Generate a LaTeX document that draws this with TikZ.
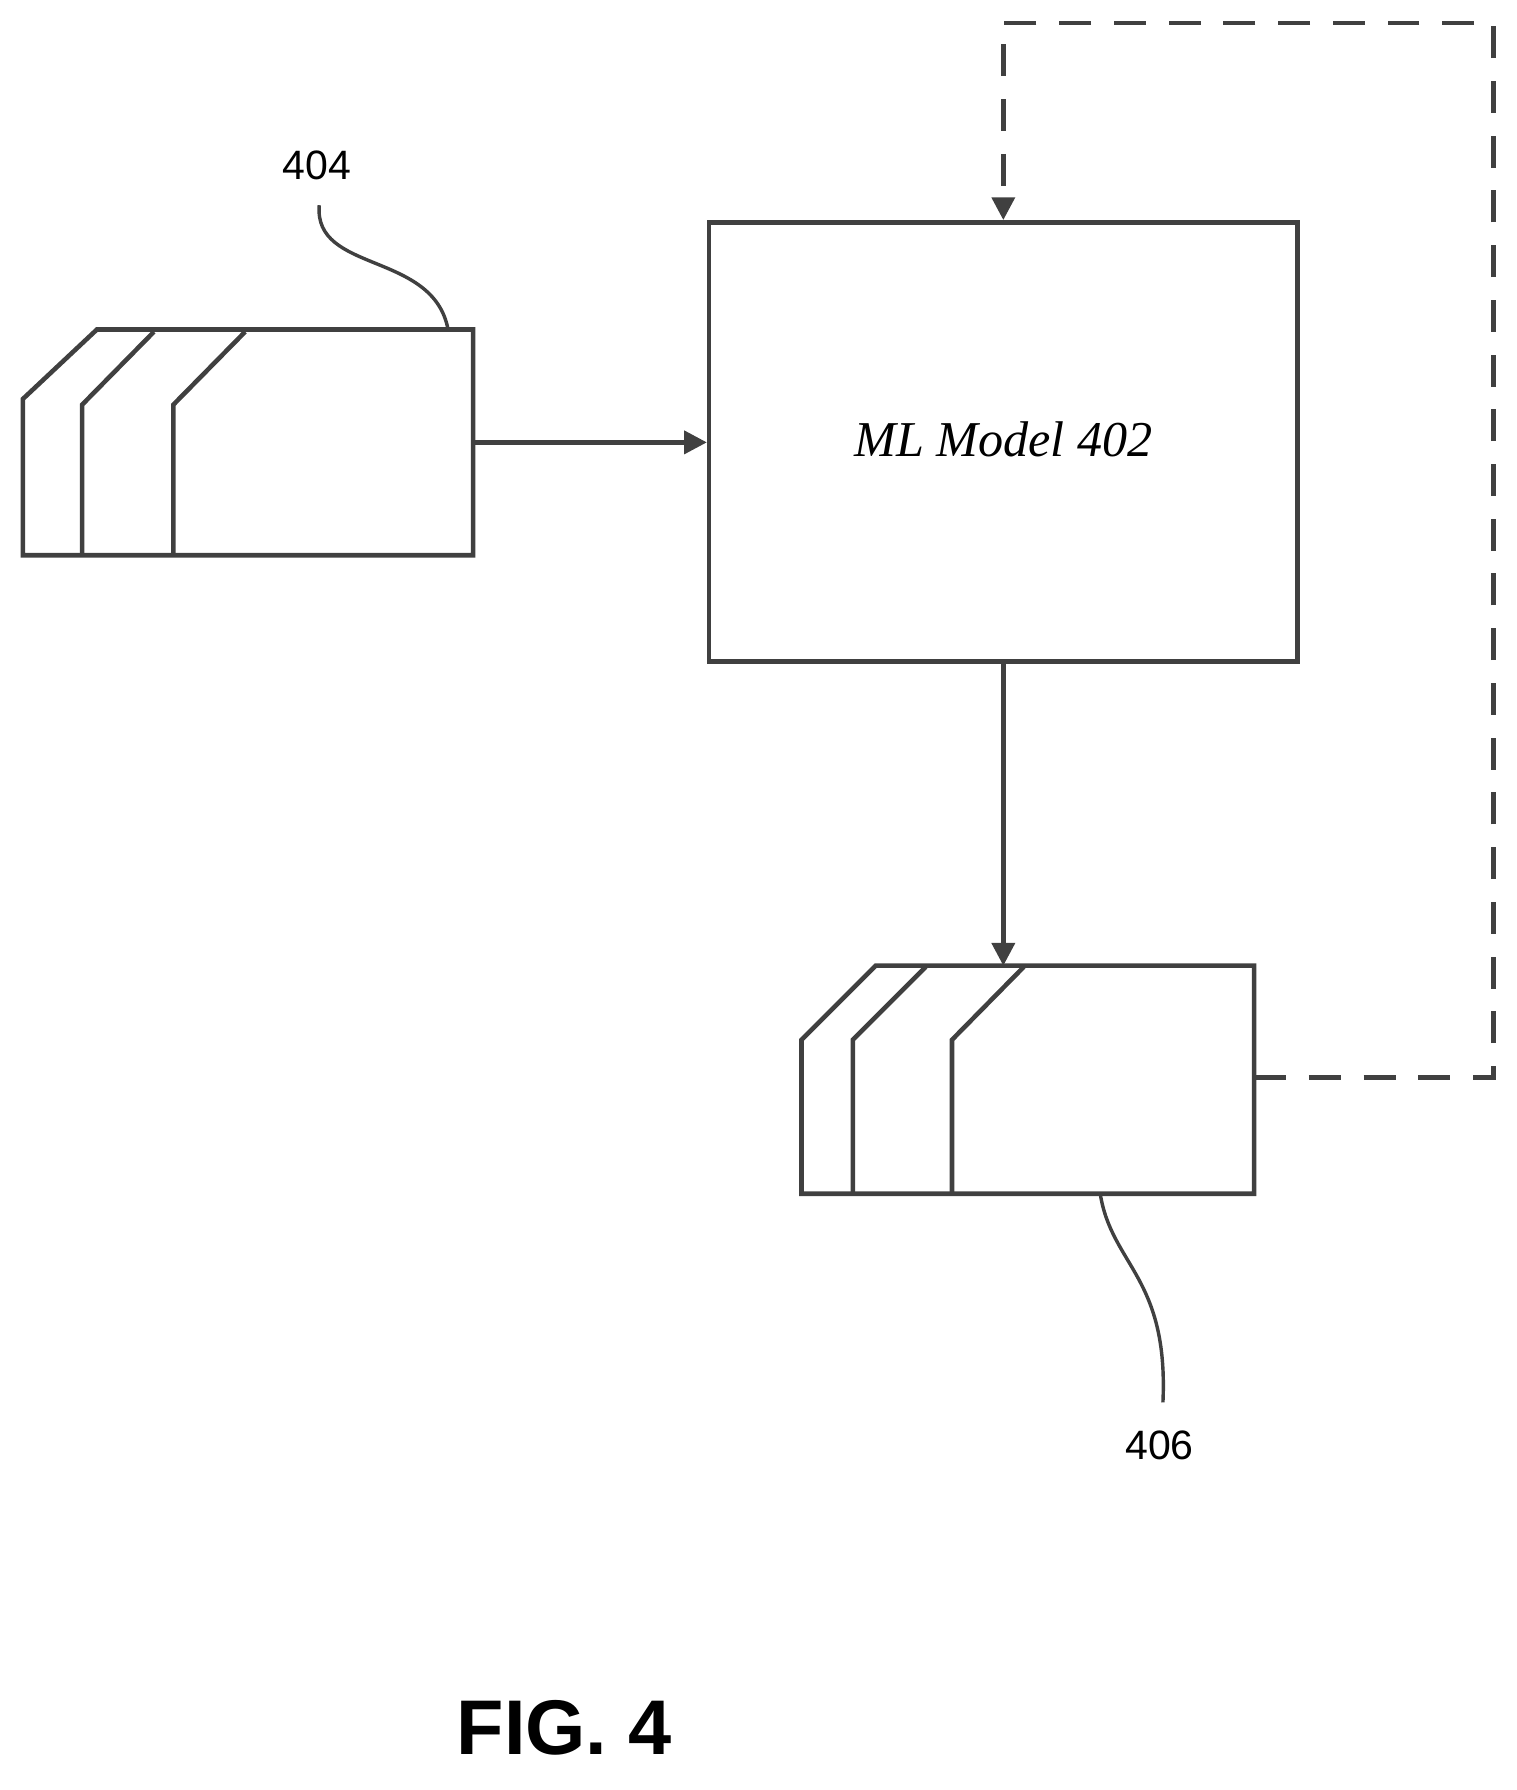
\documentclass[tikz,border=0pt]{standalone}
\usepackage{fontspec}
\setmainfont{Liberation Sans}
\newfontfamily\serifit{Liberation Serif}
\usetikzlibrary{arrows.meta, positioning}
\tikzset{
    line/.style={line width=2pt, draw=black!75},
    arr/.style={line, -{Triangle[length=10pt, width=10pt]}},
    dashline/.style={arr, dash pattern=on 14pt off 10pt},
}
\begin{document}
\begin{tikzpicture}[x=0.5pt, y=-0.5pt]
        \useasboundingbox (0,0) rectangle (1330,1570);
        % model
        \node[line, draw, minimum width=258pt, minimum height=192.5pt] (model) at (880,387.5) {};
        \node[font=\serifit\itshape\fontsize{22}{26}\selectfont] (modeltext) at (880,385) {ML Model 402};
        % input data 404
        \draw[line] (85,289) -- (415,289) -- (415,487) -- (20,487) -- (20,350) -- cycle;
        \draw[line] (72,487) -- (72,355) -- (135,291);
        \draw[line] (152,487) -- (152,355) -- (215,291);
        \coordinate (inR) at (415,388);
        % output data 406
        \draw[line] (768,847) -- (1100,847) -- (1100,1047) -- (703,1047) -- (703,912) -- cycle;
        \draw[line] (748,1047) -- (748,912) -- (812,848);
        \draw[line] (835,1047) -- (835,912) -- (898,848);
        \coordinate (outT) at (880,847);
        \coordinate (outR) at (1100,945);
        % connectors
        \draw[arr] (inR) -- (inR -| model.west);
        \draw[arr] (model.south) -- (outT);
        \draw[dashline] (outR) -- (1310,945) -- (1310,20) -- (880,20) -- (model.north);
        % labels
        \node[font=\fontsize{18}{20}\selectfont] (l404) at (278,145) {404};
        \draw[line, line width=1.5pt] (280,180) .. controls (275,240) and (380,220) .. (393,289);
        \node[font=\fontsize{18}{20}\selectfont] (l406) at (1017,1268) {406};
        \draw[line, line width=1.5pt] (965,1047) .. controls (975,1110) and (1025,1120) .. (1020,1230);
        \node[font=\bfseries\fontsize{34}{38}\selectfont] (fig) at (495,1515) {FIG. 4};
    \end{tikzpicture}
\end{document}
